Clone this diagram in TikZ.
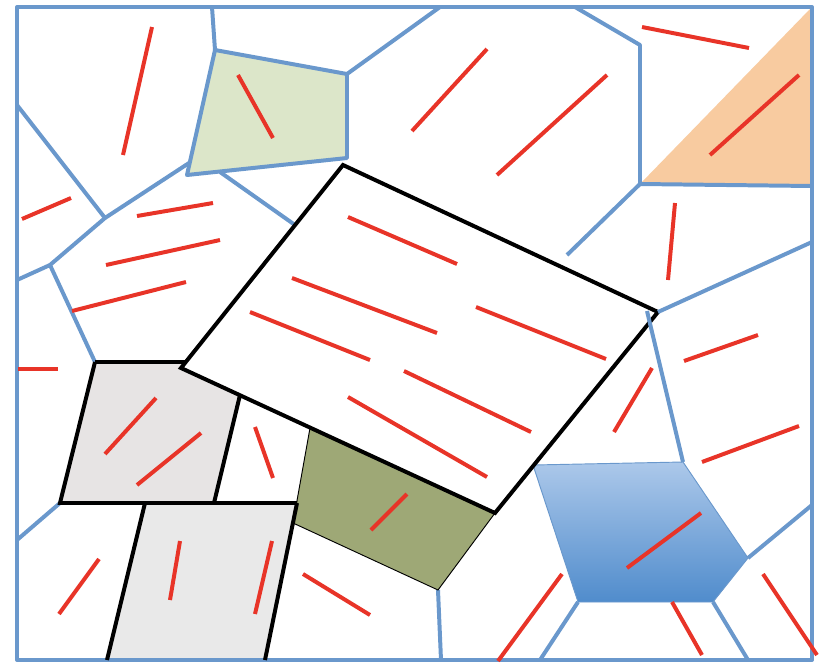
\documentclass[tikz,border=0pt]{standalone}
\usepackage{tikz}
\definecolor{grainblue}{RGB}{106,152,204}
\definecolor{twinred}{RGB}{232,52,40}
\definecolor{grainleaf}{RGB}{220,230,201}
\definecolor{grainpeach}{RGB}{248,203,160}
\definecolor{grainstone}{RGB}{231,228,228}
\definecolor{grainfog}{RGB}{233,233,233}
\definecolor{grainolive}{RGB}{158,168,118}
\definecolor{grainsky}{RGB}{172,200,234}
\definecolor{graindeep}{RGB}{80,140,204}

\begin{document}
\begin{tikzpicture}[x=0.03cm,y=-0.03cm]
	\tikzstyle{bnd}=[draw=grainblue,line width=3.4pt,line join=round]
	\tikzstyle{blk}=[draw=black,line width=3.4pt,line join=miter]
	\tikzstyle{tw}=[draw=twinred,line width=3.4pt]
	\useasboundingbox (0,0) rectangle (827,664);
	% junctions
	\coordinate (tl) at (17,7);   \coordinate (tr) at (812,7);
	\coordinate (br) at (812,660); \coordinate (bl) at (17,660);
	\coordinate (g1) at (215,50);  \coordinate (g2) at (347,74);
	\coordinate (g3) at (347,158); \coordinate (g4) at (187,175);
	\coordinate (g5) at (220,172); \coordinate (g6) at (189,163);
	\coordinate (a1) at (212,7);   \coordinate (a2) at (440,7);
	\coordinate (l1) at (17,105);  \coordinate (l2) at (17,280);
	\coordinate (l3) at (17,540);
	\coordinate (j1) at (105,218); \coordinate (j2) at (50,265);
	\coordinate (j3) at (95,362);
	\coordinate (r1) at (343,165); \coordinate (r2) at (658,312);
	\coordinate (r3) at (495,513); \coordinate (r4) at (181,368);
	\coordinate (r5) at (295,225);
	\coordinate (p1) at (186,362); \coordinate (p2) at (240,395);
	\coordinate (p3) at (214,503); \coordinate (p4) at (60,503);
	\coordinate (q1) at (145,503); \coordinate (q2) at (297,503);
	\coordinate (q3) at (265,660); \coordinate (q4) at (107,660);
	\coordinate (o1) at (310,428); \coordinate (o3) at (438,590);
	\coordinate (o4) at (293,523);
	\coordinate (c1) at (575,7);   \coordinate (c2) at (640,45);
	\coordinate (c3) at (640,184); \coordinate (c4) at (812,186);
	\coordinate (c5) at (567,255); \coordinate (c6) at (810,9);
	\coordinate (e1) at (812,242); \coordinate (e2) at (812,505);
	\coordinate (k1) at (647,311);
	\coordinate (b1) at (533,465); \coordinate (b2) at (683,462);
	\coordinate (b3) at (748,558); \coordinate (b4) at (713,602);
	\coordinate (b5) at (578,602);
	\coordinate (f1) at (540,660); \coordinate (f2) at (748,660);
	\coordinate (f3) at (441,660);
	% grains
	\fill [grainpeach] (c3) -- (c6) -- (c4) -- cycle;
	\fill [grainstone] (j3) -- (p1) -- (r4) -- (p2) -- (p3) -- (p4) -- cycle;
	\fill [grainfog] (q1) -- (q2) -- (q3) -- (q4) -- cycle;
	\shade [top color=grainsky,bottom color=graindeep] (b1) -- (b2) -- (b3) -- (b4) -- (b5) -- cycle;
	\draw [grainblue,line width=0.8pt] (b1) -- (b2) -- (b3) -- (b4) -- (b5) -- cycle;
	\draw [bnd,fill=grainleaf] (g1) -- (g2) -- (g3) -- (g4) -- cycle;
	% boundaries
	\draw [bnd] (a1) -- (g1);
	\draw [bnd] (g2) -- (a2);
	\draw [bnd] (l1) -- (j1) -- (g6);
	\draw [bnd] (j1) -- (j2) -- (l2);
	\draw [bnd] (j2) -- (j3);
	\draw [bnd] (g5) -- (r5);
	\draw [bnd] (c1) -- (c2) -- (c3) -- (c4);
	\draw [bnd] (c3) -- (c5);
	\draw [bnd] (b3) -- (e2);
	\draw [bnd] (b5) -- (f1);
	\draw [bnd] (b4) -- (f2);
	\draw [bnd] (o3) -- (f3);
	\draw [bnd] (p4) -- (l3);
	\draw [bnd] (tl) rectangle (br);
	% olive grain and the big block
	\draw [fill=grainolive,draw=black,line width=0.8pt] (o1) -- (r3) -- (o3) -- (o4) -- cycle;
	\draw [blk] (r1) -- (r2) -- (r3) -- (r4) -- cycle;
	\draw [blk] (j3) -- (p1);
	\draw [blk] (j3) -- (p4) -- (q2);
	\draw [blk] (p2) -- (p3);
	\draw [blk] (q1) -- (q4);
	\draw [blk] (q2) -- (q3);
	\draw [bnd] (r2) -- (e1);
	\draw [bnd] (k1) -- (b2);
	% twins
	\draw [tw] (152,27) -- (123,155);
	\draw [tw] (238,75) -- (273,138);
	\draw [tw] (22,219) -- (71,198);
	\draw [tw] (137,216) -- (213,203);
	\draw [tw] (106,265) -- (220,240);
	\draw [tw] (72,311) -- (186,282);
	\draw [tw] (348,217) -- (457,264);
	\draw [tw] (292,278) -- (437,333);
	\draw [tw] (250,312) -- (370,360);
	\draw [tw] (476,307) -- (606,359);
	\draw [tw] (404,371) -- (531,432);
	\draw [tw] (348,397) -- (487,477);
	\draw [tw] (412,131) -- (487,49);
	\draw [tw] (497,175) -- (607,75);
	\draw [tw] (642,27) -- (749,48);
	\draw [tw] (710,155) -- (799,75);
	\draw [tw] (668,280) -- (675,203);
	\draw [tw] (18,369) -- (58,369);
	\draw [tw] (105,454) -- (156,398);
	\draw [tw] (137,485) -- (201,433);
	\draw [tw] (255,427) -- (273,478);
	\draw [tw] (59,614) -- (99,559);
	\draw [tw] (170,600) -- (180,541);
	\draw [tw] (255,614) -- (272,541);
	\draw [tw] (303,574) -- (370,615);
	\draw [tw] (371,530) -- (407,494);
	\draw [tw] (684,361) -- (758,335);
	\draw [tw] (614,432) -- (652,368);
	\draw [tw] (702,462) -- (799,426);
	\draw [tw] (627,568) -- (701,513);
	\draw [tw] (498,661) -- (562,574);
	\draw [tw] (672,602) -- (702,655);
	\draw [tw] (763,574) -- (817,655);
\end{tikzpicture}
\end{document}
